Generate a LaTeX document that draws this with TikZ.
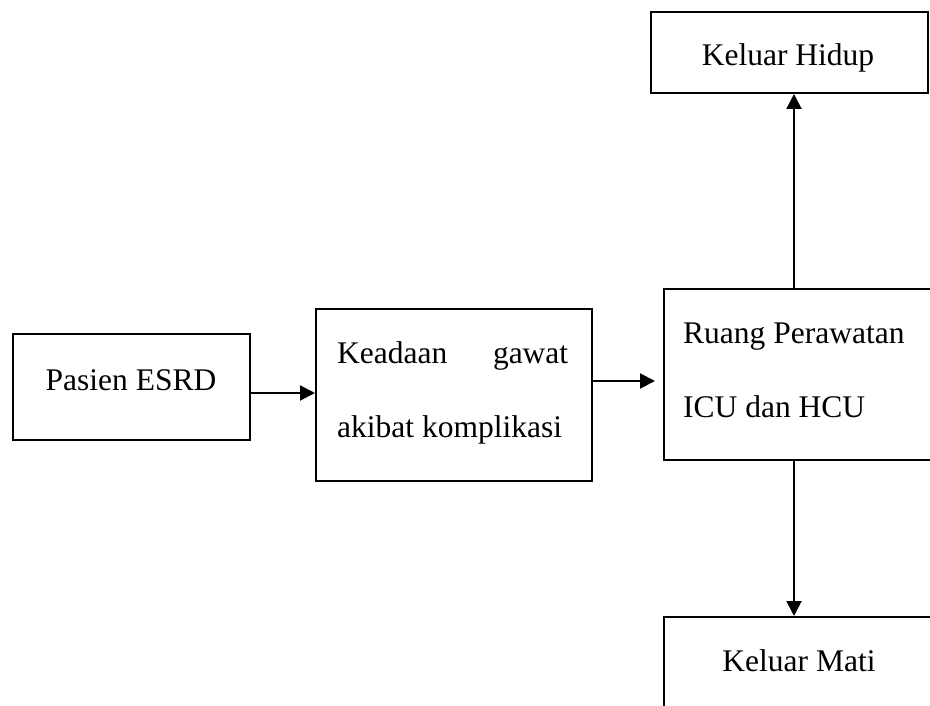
\documentclass[tikz,border=0pt]{standalone}
\usepackage{fontspec}
\setmainfont{Liberation Serif}
\usetikzlibrary{arrows.meta,calc}
\begin{document}
\begin{tikzpicture}[x=1pt,y=-1pt,
  box/.style={draw,line width=2pt,inner sep=0pt,anchor=north west},
  lbl/.style={inner sep=0pt,font=\fontsize{31.5pt}{37pt}\selectfont},
  arr/.style={line width=2pt,-{Triangle[length=15pt,width=15pt]}}]
\useasboundingbox (0,0) rectangle (930,706);
\clip (0,0) rectangle (930,706);
% boxes
\node[box,minimum width=237pt,minimum height=106pt] (pasien) at (12,333) {};
\node[box,minimum width=276pt,minimum height=172pt] (keadaan) at (315,308) {};
\node[box,minimum width=290pt,minimum height=171pt] (ruang) at (663,288) {};
\node[box,minimum width=277pt,minimum height=81pt] (hidup) at (650,11) {};
\node[box,minimum width=272pt,minimum height=110pt] (mati) at (663,616) {};
% texts
\node[lbl,anchor=base] (tpasien) at (131,390) {Pasien ESRD};
\node[lbl,anchor=base west] (tkeadaan1) at (337,363) {\makebox[231pt][s]{Keadaan\hfill gawat}};
\node[lbl,anchor=base west] (tkeadaan2) at (337,437) {akibat komplikasi};
\node[lbl,anchor=base west] (truang1) at (683,343) {Ruang Perawatan};
\node[lbl,anchor=base west] (truang2) at (683,417) {ICU dan HCU};
\node[lbl,anchor=base] (thidup) at (788,66) {Keluar Hidup};
\node[lbl,anchor=base] (tmati) at (799,671) {Keluar Mati};
% connectors
\coordinate (a1) at ($(pasien.east)+(0,6)$);
\draw[arr] (a1) -- (a1 -| keadaan.west);
\coordinate (a2) at ($(keadaan.east)+(0,-14)$);
\coordinate (a2e) at ($(ruang.west)+(-8,6.5)$);
\draw[arr] (a2) -- (a2 -| a2e);
\coordinate (v) at (794,0);
\draw[arr] (ruang.north -| v) -- (hidup.south -| v);
\draw[arr] (ruang.south -| v) -- (mati.north -| v);
\end{tikzpicture}
\end{document}
